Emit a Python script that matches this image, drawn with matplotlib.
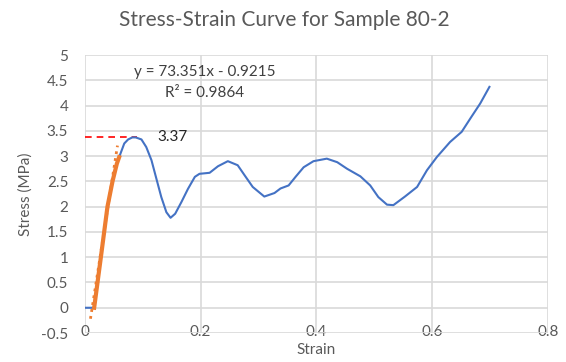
import matplotlib.pyplot as plt

plt.rcParams['font.family'] = ['Lato', 'DejaVu Sans']

# Sample 80-2 curve, read at intervals
strain = [0.0, 0.016, 0.0218, 0.0276, 0.0333, 0.039, 0.0477, 0.0552, 0.0592,
          0.068, 0.0747, 0.082, 0.0877, 0.0977, 0.106, 0.115, 0.1236, 0.132,
          0.1408, 0.148, 0.156, 0.1667, 0.178, 0.19, 0.198, 0.2155, 0.23,
          0.247, 0.264, 0.276, 0.29, 0.31, 0.3276, 0.338, 0.352, 0.364,
          0.378, 0.395, 0.418, 0.436, 0.453, 0.476, 0.493, 0.507, 0.522,
          0.533, 0.553, 0.574, 0.591, 0.608, 0.631, 0.651, 0.668, 0.683,
          0.699]
stress = [0.0, 0.0, 0.5, 1.0, 1.5, 2.0, 2.5, 2.85, 2.98,
          3.25, 3.33, 3.37, 3.37, 3.33, 3.18, 2.92, 2.55, 2.19,
          1.89, 1.78, 1.86, 2.09, 2.35, 2.59, 2.65, 2.67, 2.8,
          2.9, 2.82, 2.62, 2.39, 2.2, 2.27, 2.36, 2.42, 2.59,
          2.78, 2.9, 2.95, 2.88, 2.75, 2.6, 2.42, 2.19, 2.04,
          2.03, 2.2, 2.39, 2.72, 2.98, 3.28, 3.48, 3.78, 4.04,
          4.37]

# elastic region used for the fit
lin_strain = [0.016, 0.0218, 0.0276, 0.0333, 0.039, 0.0477, 0.0552, 0.0592]
lin_stress = [0.0, 0.5, 1.0, 1.5, 2.0, 2.5, 2.85, 2.98]

slope = 73.351
intercept = -0.9215
r2 = 0.9864
peak = 3.37
trend_x = [0.0096, 0.0563]

blue = '#4472C4'
orange = '#ED7D31'
grid = '#D9D9D9'
txt = '#595959'

fig = plt.figure(figsize=(5.66, 3.62), dpi=100)
ax = fig.add_axes([0.150, 0.080, 0.818, 0.768])

ax.plot(strain, stress, color=blue, lw=1.5, zorder=3)
ax.plot(lin_strain, lin_stress, color=orange, lw=3, zorder=4)
ax.plot(trend_x, [slope * x + intercept for x in trend_x], color=orange,
        lw=2, ls=(0, (1, 1.5)), zorder=5)

ax.plot([0, 0.09], [peak, peak], color='red', lw=1.2, ls=(0, (4, 3)), zorder=2)
ax.text(0.126, peak, f'{peak:.2f}', fontsize=11, color='#262626', va='center')

ax.text(0.207, 4.66, f'y = {slope}x - {abs(intercept)}', fontsize=11,
        color='#404040', ha='center', va='center')
ax.text(0.207, 4.25, f'R² = {r2}', fontsize=11, color='#404040',
        ha='center', va='center')

ax.set_xlim(0, 0.8)
ax.set_ylim(-0.5, 5)
ax.set_xticks([0, 0.2, 0.4, 0.6, 0.8])
ax.set_xticklabels(['0', '0.2', '0.4', '0.6', '0.8'])
ax.set_yticks([-0.5, 0, 0.5, 1, 1.5, 2, 2.5, 3, 3.5, 4, 4.5, 5])
ax.set_yticklabels(['-0.5', '0', '0.5', '1', '1.5', '2', '2.5', '3', '3.5',
                    '4', '4.5', '5'])
ax.grid(True, color=grid, lw=1.2)
ax.set_axisbelow(True)
for s in ax.spines.values():
    s.set_visible(False)
ax.tick_params(length=0, labelsize=11, labelcolor=txt)
ax.tick_params(axis='x', pad=-6)
ax.tick_params(axis='y', pad=12)

ax.set_xlabel('Strain', fontsize=11, color=txt, labelpad=3)
ax.set_ylabel('Stress (MPa)', fontsize=11, color=txt, labelpad=6)
fig.suptitle('Stress-Strain Curve for Sample 80-2', fontsize=15, color=txt,
             x=0.503, y=0.945, va='center')

fig.savefig('out.png', dpi=100)
